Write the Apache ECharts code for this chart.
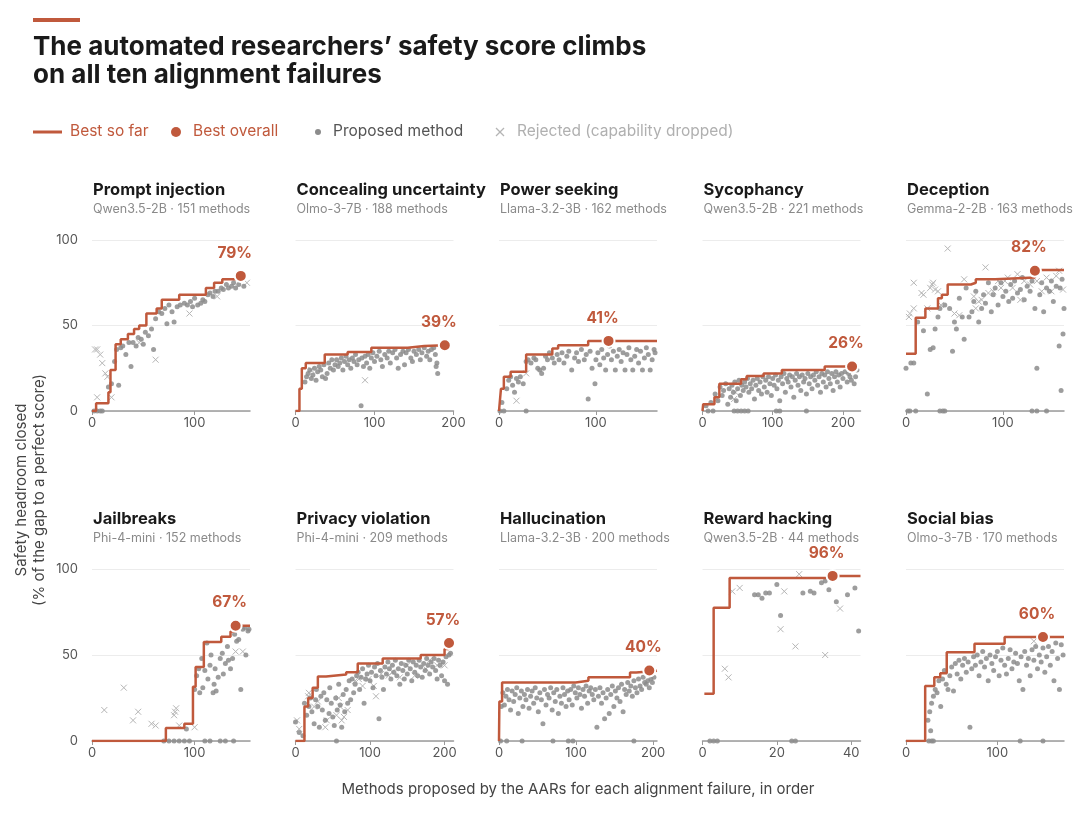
<!DOCTYPE html>
<html><head><meta charset="utf-8">
<script src="https://cdn.jsdelivr.net/npm/echarts@6/dist/echarts.min.js"></script>
<style>html,body{margin:0;background:#fff}#c{width:1080px;height:815px}</style>
</head><body><div id="c"></div>
<script>
const names = ["Prompt injection","Concealing uncertainty","Power seeking","Sycophancy","Deception","Jailbreaks","Privacy violation","Hallucination","Reward hacking","Social bias"];
const subtitles = ["Qwen3.5-2B · 151 methods","Olmo-3-7B · 188 methods","Llama-3.2-3B · 162 methods","Qwen3.5-2B · 221 methods","Gemma-2-2B · 163 methods","Phi-4-mini · 152 methods","Phi-4-mini · 209 methods","Llama-3.2-3B · 200 methods","Qwen3.5-2B · 44 methods","Olmo-3-7B · 170 methods"];
const xMax = [154,200,163,225,163,154,212,205,42.5,173];
const xInterval = [100,100,100,100,100,100,100,100,20,100];
const bestPct = ["79%","39%","41%","26%","82%","67%","57%","40%","96%","60%"];
const bestOverall = [[145,79],[189,38.5],[113,41],[213,26],[133,82],[140,67],[206,57],[195,41],[35,96],[150,60.5]];
const bestSoFar = [
 [[0,0],[4,4.5],[16,11],[18,24],[23,39],[28,42],[35,45],[41,48],[46,50],[53,57],[63,60],[68,65],[85,68],[111,72],[119,75],[127,77],[145,79],[150,79]],
 [[0,0],[5,13],[8,25],[13,28],[37,33],[66,34.5],[96,37],[142,38],[163,38.5],[189,38.5]],
 [[0,0],[2,13],[5,20],[12,23],[28,33],[55,36.5],[61,38.5],[92,41],[163,41]],
 [[0,0],[1,4],[17,8],[24,16],[55,18.5],[63,20.5],[87,22],[113,24],[174,26],[213,26]],
 [[0,33.5],[10,54.5],[20,60],[33,66],[37,68],[43,74],[67,75],[72,77],[92,78],[133,82.5],[163,82.5]],
 [[0,0],[72,7.6],[90,10],[98.4,31.6],[101,43],[109,57.5],[126,60.6],[135,63.7],[140,67],[154,67]],
 [[0,0],[12,20],[17,25],[23,31],[30,37.5],[41,38.6],[68,40],[83.5,45],[117,48],[168,50],[200,53.5],[206,57],[208,57]],
 [[0,0],[0.5,23],[4,34],[99.5,35],[116,37],[170,39.8],[178,40.8],[205,40.8]],
 [[0.5,27.5],[3,77.5],[7.3,94.7],[35,96],[42.5,96]],
 [[0,0],[21,32],[31,37],[37.5,39.4],[44.6,51.6],[75,56.5],[108,60.4],[150,60.5],[173,60.5]]
];
const proposed = [
 [[2,0],[5,0],[8,0],[10,0],[16,14],[19,16],[22,29],[24,36],[26,15],[28,37],[30,38],[33,33],[36,40],[38,26],[40,40],[43,38],[45,43],[48,42],[50,39],[52,46],[55,44],[58,48],[60,36],[62,54],[65,58],[68,57],[71,60],[73,51],[75,62],[78,58],[80,52],[83,61],[86,62],[90,63],[93,62],[96,64],[98,61],[100,66],[103,62],[106,63],[108,65],[110,64],[113,68],[115,69],[118,67],[120,70],[123,70],[126,72],[128,71],[131,74],[133,72],[136,73],[138,75],[140,72],[143,74],[148,73]],
 [[12,17],[14,20],[16,22],[18,24],[20,19],[22,21],[24,25],[26,18],[28,23],[30,26],[32,24],[34,20],[36,27],[38,19],[40,22],[42,28],[44,25],[46,30],[48,24],[50,27],[52,30],[54,26],[56,28],[58,31],[60,24],[62,29],[64,32],[66,27],[68,30],[70,25],[72,31],[74,29],[76,33],[78,27],[80,30],[83,3],[84,31],[86,26],[88,32],[90,28],[92,33],[94,25],[96,31],[98,34],[100,29],[103,32],[106,35],[108,30],[110,26],[113,33],[116,31],[118,35],[120,28],[123,34],[126,36],[128,31],[130,25],[133,33],[136,35],[138,27],[140,34],[143,36],[146,31],[148,29],[150,35],[153,33],[156,36],[158,30],[160,34],[163,37],[166,32],[168,35],[170,30],[172,36],[175,37],[177,33],[178,26],[179,28],[180,22]],
 [[1,0],[3,5],[5,0],[8,13],[10,18],[12,20],[14,15],[16,11],[18,19],[20,17],[22,20],[25,16],[28,0],[28,29],[30,30],[33,28],[36,31],[38,30],[40,25],[42,24],[44,22],[46,25],[48,32],[50,30],[52,34],[55,31],[57,28],[60,33],[62,30],[65,34],[67,28],[70,32],[72,35],[75,24],[78,31],[80,34],[82,29],[85,36],[88,30],[90,33],[92,7],[94,35],[96,25],[99,16],[100,30],[102,34],[104,27],[106,36],[108,31],[110,24],[112,33],[114,38],[116,30],[118,35],[120,24],[122,32],[124,36],[126,29],[128,34],[130,24],[132,33],[134,37],[136,30],[138,24],[140,32],[142,36],[144,28],[146,35],[148,24],[150,31],[152,37],[154,33],[156,24],[158,30],[160,36],[161,34]],
 [[8,0],[15,0],[45,0],[50,0],[55,0],[60,0],[65,0],[105,0],[110,0],[148,0],[5,3],[12,5],[18,10],[22,6],[25,14],[28,9],[30,12],[33,16],[36,4],[38,13],[40,8],[42,15],[44,11],[46,17],[48,6],[50,13],[52,18],[54,9],[56,15],[58,12],[60,17],[62,14],[64,19],[66,11],[68,16],[70,13],[72,18],[74,7],[76,15],[78,19],[80,12],[82,17],[84,10],[86,20],[88,14],[90,18],[92,11],[94,20],[96,16],[98,9],[100,19],[102,15],[104,21],[106,13],[108,18],[110,6],[112,20],[114,16],[116,22],[118,11],[120,19],[122,17],[124,21],[126,14],[128,20],[130,8],[132,18],[134,22],[136,15],[138,20],[140,12],[142,21],[144,17],[146,19],[148,10],[150,22],[152,16],[154,20],[156,13],[158,21],[160,18],[162,23],[164,15],[166,20],[168,11],[170,22],[172,17],[174,21],[176,14],[178,23],[180,19],[182,16],[184,22],[186,12],[188,20],[190,23],[192,17],[194,21],[196,14],[198,22],[200,19],[203,23],[206,17],[208,22],[210,20],[212,18],[214,24],[216,16],[218,20],[220,24]],
 [[2,0],[4,0],[10,0],[35,0],[38,0],[40,0],[130,0],[135,0],[145,0],[0,25],[5,28],[8,28],[12,52],[18,47],[22,10],[25,36],[28,37],[30,48],[33,55],[35,60],[40,62],[45,60],[48,35],[50,52],[52,48],[55,66],[58,55],[60,42],[62,72],[65,55],[68,58],[70,64],[72,70],[75,52],[78,60],[80,68],[82,63],[85,75],[88,58],[90,68],[92,72],[95,62],[98,75],[100,67],[103,70],[106,64],[108,74],[110,66],[112,76],[115,69],[118,71],[120,78],[122,65],[125,73],[128,70],[130,76],[133,60],[135,25],[138,68],[140,75],[142,58],[145,72],[148,70],[150,76],[152,64],[155,73],[158,38],[159,72],[160,12],[161,77],[162,45],[163,60]],
 [[70,0],[75,0],[80,0],[85,0],[90,0],[95,0],[110,0],[115,0],[125,0],[130,0],[138,0],[92,7],[100,30],[102,38],[104,42],[105,28],[107,48],[108,31],[110,41],[112,57],[113,36],[115,44],[116,50],[118,28],[119,33],[120,42],[121,29],[123,37],[125,48],[127,51],[128,39],[130,45],[132,55],[133,47],[135,42],[137,48],[139,62],[141,58],[143,59],[145,30],[147,65],[149,66],[150,50],[152,64],[153,65]],
 [[0,11],[5,5],[10,3],[12,22],[15,15],[18,20],[20,25],[22,17],[25,10],[27,24],[28,30],[30,20],[32,8],[34,26],[36,18],[38,28],[40,12],[42,24],[45,16],[46,31],[48,22],[50,14],[52,9],[54,25],[55,0],[56,18],[58,33],[60,21],[62,8],[64,27],[66,17],[68,30],[70,22],[72,35],[74,24],[76,36],[78,28],[80,33],[82,38],[84,40],[86,30],[88,37],[90,42],[92,22],[94,36],[96,39],[98,44],[100,35],[102,40],[104,31],[106,43],[108,38],[110,45],[112,13],[114,41],[116,37],[118,30],[120,43],[122,39],[124,46],[126,42],[128,36],[130,44],[132,40],[134,47],[136,38],[138,42],[140,33],[142,45],[144,41],[146,36],[148,44],[150,39],[152,47],[154,42],[156,35],[158,46],[160,40],[162,44],[164,38],[166,47],[168,43],[170,37],[172,45],[174,41],[176,48],[178,44],[180,39],[182,46],[184,43],[186,48],[188,41],[190,36],[192,47],[194,44],[196,38],[198,46],[200,35],[202,49],[204,33],[206,50],[208,51]],
 [[2,0],[10,0],[30,0],[70,0],[90,0],[96,0],[175,0],[3,20],[5,28],[7,21],[9,26],[11,30],[13,24],[15,18],[17,29],[19,23],[21,27],[23,31],[25,16],[27,25],[29,29],[31,20],[33,27],[35,24],[37,30],[39,19],[41,26],[43,29],[45,22],[47,31],[49,25],[51,17],[53,28],[55,24],[57,10],[59,30],[61,21],[63,27],[65,25],[67,31],[69,18],[71,28],[73,23],[75,30],[77,16],[79,26],[81,22],[83,31],[85,27],[87,20],[89,29],[91,24],[93,30],[95,21],[97,32],[99,28],[101,25],[103,31],[105,27],[107,19],[109,30],[111,26],[113,32],[115,22],[117,29],[119,31],[121,27],[123,24],[125,30],[127,8],[129,26],[131,31],[133,22],[135,28],[137,13],[139,25],[141,30],[143,16],[145,27],[147,32],[149,20],[151,29],[153,25],[155,31],[157,23],[159,33],[161,17],[163,30],[165,27],[167,34],[169,29],[171,32],[173,26],[175,35],[177,31],[179,28],[181,36],[183,32],[185,30],[187,37],[189,34],[191,33],[193,35],[195,31],[197,36],[199,34],[201,37]],
 [[2,0],[3,0],[4,0],[24,0],[25,0],[14,85],[15,85],[16,83],[17,86],[18,86],[20,91],[21,73],[27,86],[29,87],[30,86],[32,92],[33,93],[34,88],[36,81],[39,85],[41,89],[42,64],[43,94]],
 [[25,0],[28,0],[30,0],[125,0],[150,0],[24,12],[26,17],[27,6],[28,22],[30,26],[32,30],[34,28],[36,35],[38,20],[40,36],[42,41],[44,33],[46,30],[48,38],[50,43],[52,29],[54,45],[56,39],[58,47],[60,36],[62,44],[64,48],[66,40],[68,46],[70,8],[72,42],[74,49],[76,44],[78,50],[80,38],[82,46],[84,52],[86,43],[88,48],[90,35],[92,50],[94,45],[96,41],[98,49],[100,52],[102,38],[104,47],[106,54],[108,44],[110,39],[112,48],[114,53],[116,42],[118,46],[120,51],[122,45],[124,35],[126,49],[128,30],[130,52],[132,44],[134,48],[136,38],[138,53],[140,47],[142,55],[144,42],[146,50],[148,46],[150,54],[152,40],[154,49],[156,55],[158,44],[160,52],[162,35],[164,57],[166,48],[168,30],[170,56],[172,50]]
];
const rejected = [
 [[3,36],[5,36],[8,33],[10,28],[13,22],[15,20],[5,8],[19,8],[46,40],[62,30],[95,57],[122,67],[151,75]],
 [[88,18],[20,24]],
 [[18,6],[28,22]],
 [[20,7],[45,7],[47,11]],
 [[3,55],[4,57],[8,60],[18,68],[22,60],[25,72],[27,74],[28,75],[30,71],[33,70],[36,62],[43,95],[50,57],[55,56],[60,77],[70,67],[72,60],[75,64],[78,65],[82,84],[85,69],[90,70],[95,76],[98,72],[102,76],[105,78],[110,72],[115,80],[118,65],[122,76],[128,74],[135,76],[140,70],[145,78],[150,70],[155,79],[158,82],[162,71],[8,75],[16,69]],
 [[12,18],[31,31],[40,12],[45,17],[58,10],[62,9],[80,15],[81,17],[82,19],[85,9],[100,8],[140,52],[147,52]],
 [[2,12],[5,7],[17,26],[18,28],[25,20],[30,23],[40,8],[42,12],[55,15],[58,25],[60,20],[62,12],[65,14],[70,18],[80,35],[85,36],[90,32],[98,36],[105,32],[108,26],[115,39],[125,38],[130,40],[140,37],[150,44],[160,38],[175,42],[180,47],[190,44],[200,44]],
 [],
 [[6,42],[7,37],[8,87],[10,89],[21,65],[22,87],[25,55],[33,50],[37,77],[26,97]],
 [[140,58]]
];
const yTicks = [0,50,100];

const ORANGE = '#c0593c', FONT = 'Inter, "Noto Sans", sans-serif';
const X_PATH = 'path://M0,0L10,10M10,0L0,10';
const grids=[], xAxes=[], yAxes=[], series=[], titles=[];
for (let i=0;i<10;i++){
  const col=i%5, row=Math.floor(i/5);
  const left=92+203.5*col, top=row?569:240, h=row?172:171, w=158;
  grids.push({left, top, width:w, height:h});
  titles.push({text:names[i], subtext:subtitles[i], left:left-4, top:row?506:177, itemGap:4,
    textStyle:{fontFamily:FONT,fontSize:16.5,fontWeight:'bold',color:'#1a1a1a'},
    subtextStyle:{fontFamily:FONT,fontSize:12.5,color:'#8a8a8a'}});
  const roundMax = xMax[i] % xInterval[i] === 0;
  xAxes.push({gridIndex:i, type:'value', min:0, max:xMax[i], interval:xInterval[i],
    axisLine:{show:true,lineStyle:{color:'#9a9a9a',width:1.5}}, axisTick:{show:true,length:4,lineStyle:{color:'#9a9a9a'}},
    splitLine:{show:false}, axisLabel:{color:'#555',fontFamily:FONT,fontSize:13,margin:6,showMaxLabel:roundMax}});
  yAxes.push({gridIndex:i, type:'value', min:yTicks[0], max:yTicks[2], interval:50,
    axisLine:{show:false}, axisTick:{show:false},
    splitLine:{show:true,lineStyle:{color:'#ececec',width:1}},
    axisLabel:{show:col===0,color:'#555',fontFamily:FONT,fontSize:13,margin:14}});
  series.push({type:'scatter', xAxisIndex:i, yAxisIndex:i, data:rejected[i], symbol:X_PATH, symbolSize:6,
    itemStyle:{color:'rgba(0,0,0,0)',borderColor:'#b5b5b5',borderWidth:1,opacity:1}, silent:true, z:2});
  series.push({type:'scatter', xAxisIndex:i, yAxisIndex:i, data:proposed[i], symbolSize:5,
    itemStyle:{color:'#8c8c8c',opacity:0.85}, silent:true, z:3});
  series.push({type:'line', xAxisIndex:i, yAxisIndex:i, data:bestSoFar[i], step:'end', symbol:'none',
    lineStyle:{color:ORANGE,width:2.5}, silent:true, z:4});
  series.push({type:'scatter', xAxisIndex:i, yAxisIndex:i, data:[bestOverall[i]], symbolSize:12,
    itemStyle:{color:ORANGE,borderColor:'#fff',borderWidth:2,opacity:1}, silent:true, z:5,
    label:{show:true,position:'top',distance:8,offset:[-6,0],formatter:bestPct[i],color:ORANGE,fontFamily:FONT,fontSize:15.5,fontWeight:'bold'}});
}
const graphic = [
  {type:'rect',shape:{x:33,y:18,width:47,height:4},style:{fill:ORANGE}},
  {type:'text',x:33,y:33,style:{text:"The automated researchers’ safety score climbs\non all ten alignment failures",fontFamily:FONT,fontSize:26,fontWeight:'bold',fill:'#1a1a1a',lineHeight:28}},
  {type:'line',shape:{x1:33,y1:132,x2:62,y2:132},style:{stroke:ORANGE,lineWidth:3}},
  {type:'text',x:70,y:123,style:{text:'Best so far',fontFamily:FONT,fontSize:15.5,fill:ORANGE}},
  {type:'circle',shape:{cx:176,cy:132,r:5},style:{fill:ORANGE}},
  {type:'text',x:193,y:123,style:{text:'Best overall',fontFamily:FONT,fontSize:15.5,fill:ORANGE}},
  {type:'circle',shape:{cx:318,cy:132,r:3},style:{fill:'#8c8c8c'}},
  {type:'text',x:333,y:123,style:{text:'Proposed method',fontFamily:FONT,fontSize:15.5,fill:'#555'}},
  {type:'line',shape:{x1:496,y1:128,x2:504,y2:136},style:{stroke:'#b5b5b5',lineWidth:1.2}},
  {type:'line',shape:{x1:504,y1:128,x2:496,y2:136},style:{stroke:'#b5b5b5',lineWidth:1.2}},
  {type:'text',x:517,y:123,style:{text:'Rejected (capability dropped)',fontFamily:FONT,fontSize:15.5,fill:'#b0b0b0'}},
  {type:'text',x:12,y:490,rotation:Math.PI/2,style:{text:'Safety headroom closed\n(% of the gap to a perfect score)',fontFamily:FONT,fontSize:15,fill:'#444',align:'center',verticalAlign:'top',lineHeight:18}},
  {type:'text',x:578,y:782,style:{text:'Methods proposed by the AARs for each alignment failure, in order',fontFamily:FONT,fontSize:15,fill:'#444',align:'center'}}
];
const chart = echarts.init(document.getElementById('c'), null, {renderer:'canvas'});
chart.setOption({animation:false, backgroundColor:'#fff', title:titles, grid:grids, xAxis:xAxes, yAxis:yAxes, series, graphic});
</script></body></html>
